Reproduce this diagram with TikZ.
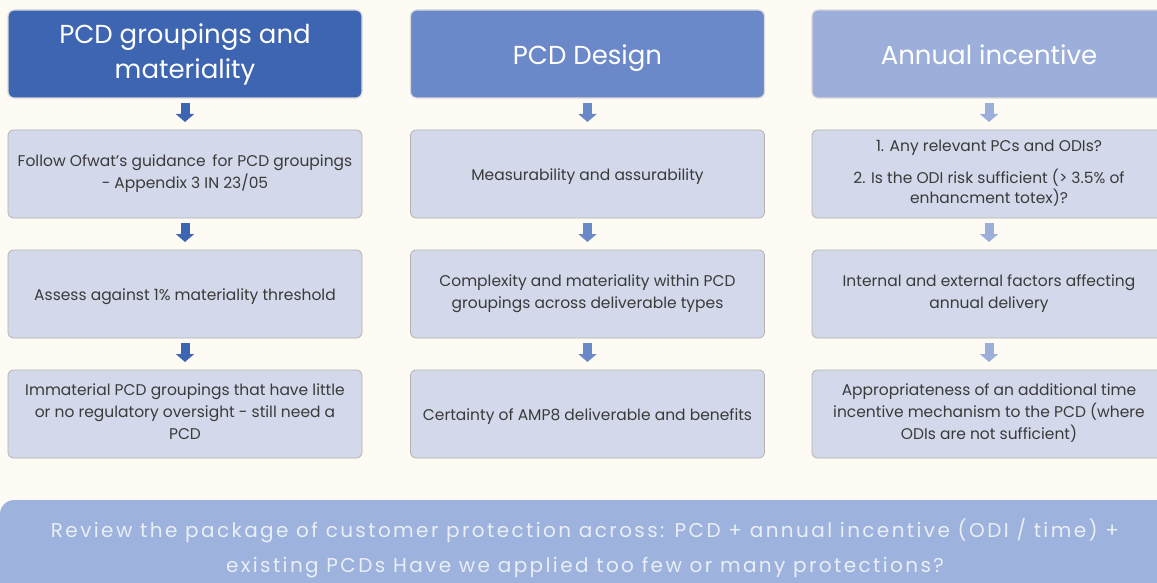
\documentclass[tikz,border=0pt]{standalone}
\usepackage{fontspec}
\setmainfont{Poppins}
\newfontfamily\revfont[LetterSpace=12]{Poppins}
\usetikzlibrary{arrows.meta,positioning}
\definecolor{bgColor}{HTML}{FEFBF4}
\definecolor{hdOne}{HTML}{3D65B1}
\definecolor{hdTwo}{HTML}{6B88C9}
\definecolor{hdThree}{HTML}{9CAEDA}
\definecolor{boxColor}{HTML}{D3D9EB}
\definecolor{revColor}{HTML}{9DB2DC}
\definecolor{txtColor}{HTML}{3A3A3A}
\tikzset{
	head/.style={rounded corners=2.2mm, draw=black!15, line width=1.2pt, fill=#1,
		minimum width=354pt, minimum height=88pt, text=white, align=center,
		font=\fontsize{26}{35}\selectfont, outer sep=0,
		execute at begin node=\rule[-6pt]{0pt}{34pt},
		execute at end node=\rule[-6pt]{0pt}{34pt}},
	stage/.style={rounded corners=2mm, draw=black!30, line width=0.8pt, fill=boxColor,
		minimum width=354pt, minimum height=88pt, text=txtColor, align=center,
		font=\fontsize{15.5}{22}\selectfont, outer sep=0,
		execute at begin node=\rule[-4.6pt]{0pt}{22pt},
		execute at end node=\rule[-4.6pt]{0pt}{22pt}},
	down/.style={draw=#1, line width=9pt, -{Triangle[width=18pt,length=8pt]},
		shorten <=5pt, shorten >=8pt}
}

\begin{document}
\begin{tikzpicture}[x=1pt, y=-1pt]
	\useasboundingbox (0,0) rectangle (1157,583);
	\clip (0,0) rectangle (1157,583);
	\fill[bgColor] (0,0) rectangle (1157,583);
	
	\node[head=hdOne, execute at begin node={\rule[-6pt]{0pt}{40pt}}] (h1) at (185, 54) {PCD groupings and\\materiality};
	\node[head=hdTwo] (h2) at (587.5, 54) {PCD Design};
	\node[head=hdThree] (h3) at (989, 54) {Annual incentive};
	
	\node[stage] (a1) at (185, 174) {Follow Ofwat’s guidance\, for PCD groupings\\- Appendix 3 IN 23/05};
	\node[stage] (a2) at (587.5, 174) {Measurability and assurability};
	\node[stage] (a3) at (989, 174) {1. Any relevant PCs and ODIs?\\[10pt]
		2. Is the ODI risk sufficient (> 3.5\% of\\[-2pt]enhancment totex)?};
	
	\node[stage] (b1) at (185, 294) {Assess against 1\% materiality threshold};
	\node[stage] (b2) at (587.5, 294) {Complexity and materiality within PCD\\groupings across deliverable types};
	\node[stage] (b3) at (989, 294) {Internal and external factors affecting\\annual delivery};
	
	\node[stage] (c1) at (185, 414) {Immaterial PCD groupings that have little\\or no regulatory oversight - still need a\\PCD};
	\node[stage] (c2) at (587.5, 414) {Certainty of AMP8 deliverable and benefits};
	\node[stage] (c3) at (989, 414) {Appropriateness of an additional time\\incentive mechanism to the PCD (where\\ODIs are not sufficient)};
	
	\node[rounded corners=5mm, fill=revColor, minimum width=1170pt, minimum height=96pt,
		text={rgb,255:red,234;green,238;blue,246}, align=center,
		font=\revfont\fontsize{20}{35}\selectfont] (rev) at (585, 548)
		{Review the package of customer protection across: PCD + annual incentive (ODI / time) +\\existing PCDs Have we applied too few or many protections?};
	
	\path (h1.south) edge[down=hdOne] (a1.north);
	\path (a1.south) edge[down=hdOne] (b1.north);
	\path (b1.south) edge[down=hdOne] (c1.north);
	\path (h2.south) edge[down=hdTwo] (a2.north);
	\path (a2.south) edge[down=hdTwo] (b2.north);
	\path (b2.south) edge[down=hdTwo] (c2.north);
	\path (h3.south) edge[down=hdThree] (a3.north);
	\path (a3.south) edge[down=hdThree] (b3.north);
	\path (b3.south) edge[down=hdThree] (c3.north);
\end{tikzpicture}
\end{document}
